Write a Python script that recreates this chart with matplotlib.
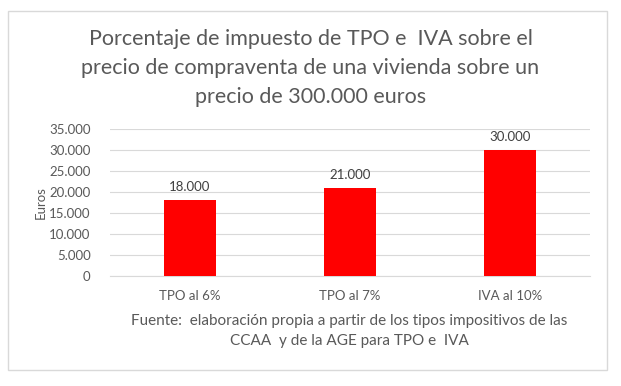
import matplotlib
matplotlib.use("Agg")
import matplotlib.pyplot as plt
from matplotlib.patches import Rectangle
from matplotlib.ticker import FuncFormatter

categories = ["TPO al 6%", "TPO al 7%", "IVA al 10%"]
values = [18000, 21000, 30000]
yticks = [0, 5000, 10000, 15000, 20000, 25000, 30000, 35000]

plt.rcParams['font.family'] = ['Lato', 'DejaVu Sans']
gray = '#595959'

fig = plt.figure(figsize=(6.21, 3.86), dpi=100)
fig.patches.append(Rectangle((8/621, 1-370/386), 599/621, 359/386, transform=fig.transFigure,
                             fill=False, edgecolor='#d9d9d9', linewidth=1))

ax = fig.add_axes([110/621, 1-276/386, 480/621, 147/386])
x = range(len(categories))
bars = ax.bar(x, values, width=0.32, color='#ff0000', zorder=3)
ax.set_xlim(-0.5, 2.5)
ax.set_ylim(0, 35000)
ax.set_yticks(yticks)
fmt = lambda v: f"{int(v):,}".replace(",", ".")
ax.yaxis.set_major_formatter(FuncFormatter(lambda v, p: fmt(v)))
ax.set_xticks(list(x))
ax.set_xticklabels(categories)
ax.tick_params(axis='both', length=0, colors=gray, labelsize=9.5)
ax.tick_params(axis='x', pad=10)
ax.tick_params(axis='y', pad=14)
ax.grid(axis='y', color='#d9d9d9', linewidth=0.8, zorder=0)
for s in ['top', 'right', 'left']:
    ax.spines[s].set_visible(False)
ax.spines['bottom'].set_color('#d9d9d9')
for xi, v in zip(x, values):
    ax.annotate(fmt(v), (xi, v), xytext=(0, 5), textcoords='offset points',
                ha='center', va='bottom', color='#404040', fontsize=9.5)
ax.set_ylabel("Euros", color=gray, fontsize=9.5, labelpad=2)

fig.text(0.5, 1-68/386, "Porcentaje de impuesto de TPO e  IVA sobre el\nprecio de compraventa de una vivienda sobre un\nprecio de 300.000 euros",
         ha='center', va='center', fontsize=15.5, color=gray, linespacing=1.55)
fig.text(349/621, 1-331/386, "Fuente:  elaboración propia a partir de los tipos impositivos de las\nCCAA  y de la AGE para TPO e  IVA",
         ha='center', va='center', fontsize=11, color=gray, linespacing=1.55)

fig.savefig("out.png", dpi=100)
